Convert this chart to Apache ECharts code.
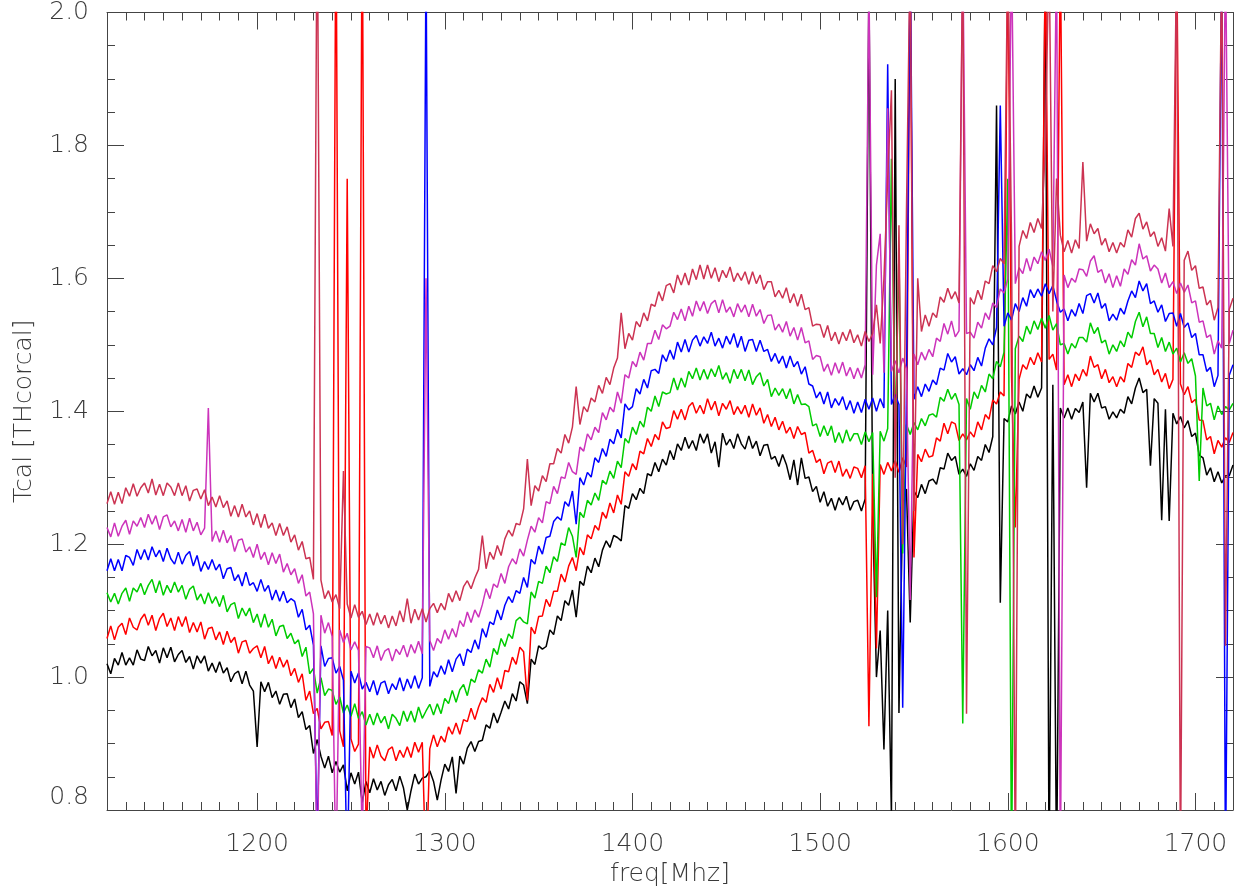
<!DOCTYPE html>
<html>
<head>
<meta charset="utf-8">
<script src="https://cdn.jsdelivr.net/npm/echarts@6/dist/echarts.min.js"></script>
<style>
html,body{margin:0;padding:0;background:#fff;}
#chart{width:1244px;height:896px;}
</style>
</head>
<body>
<div id="chart"></div>
<script>
const freq = [
1120,1122,1124,1126,1128,1130,1132,1134,1136,1138,
1140,1142,1144,1146,1148,1150,1152,1154,1156,1158,
1160,1162,1164,1166,1168,1170,1172,1174,1176,1178,
1180,1182,1184,1186,1188,1190,1192,1194,1196,1198,
1200,1202,1204,1206,1208,1210,1212,1214,1216,1218,
1220,1222,1224,1226,1228,1230,1232,1234,1236,1238,
1240,1242,1244,1246,1248,1250,1252,1254,1256,1258,
1260,1262,1264,1266,1268,1270,1272,1274,1276,1278,
1280,1282,1284,1286,1288,1290,1292,1294,1296,1298,
1300,1302,1304,1306,1308,1310,1312,1314,1316,1318,
1320,1322,1324,1326,1328,1330,1332,1334,1336,1338,
1340,1342,1344,1346,1348,1350,1352,1354,1356,1358,
1360,1362,1364,1366,1368,1370,1372,1374,1376,1378,
1380,1382,1384,1386,1388,1390,1392,1394,1396,1398,
1400,1402,1404,1406,1408,1410,1412,1414,1416,1418,
1420,1422,1424,1426,1428,1430,1432,1434,1436,1438,
1440,1442,1444,1446,1448,1450,1452,1454,1456,1458,
1460,1462,1464,1466,1468,1470,1472,1474,1476,1478,
1480,1482,1484,1486,1488,1490,1492,1494,1496,1498,
1500,1502,1504,1506,1508,1510,1512,1514,1516,1518,
1520,1522,1524,1526,1528,1530,1532,1534,1536,1538,
1540,1542,1544,1546,1548,1550,1552,1554,1556,1558,
1560,1562,1564,1566,1568,1570,1572,1574,1576,1578,
1580,1582,1584,1586,1588,1590,1592,1594,1596,1598,
1600,1602,1604,1606,1608,1610,1612,1614,1616,1618,
1620,1622,1624,1626,1628,1630,1632,1634,1636,1638,
1640,1642,1644,1646,1648,1650,1652,1654,1656,1658,
1660,1662,1664,1666,1668,1670,1672,1674,1676,1678,
1680,1682,1684,1686,1688,1690,1692,1694,1696,1698,
1700,1702,1704,1706,1708,1710,1712,1714,1716,1718,
1720];

const tcalBlack = [
1.020,1.005,1.028,1.018,1.037,1.018,1.029,1.018,1.041,1.027,
1.025,1.046,1.032,1.040,1.021,1.044,1.029,1.045,1.023,1.034,
1.040,1.022,1.031,1.012,1.032,1.021,1.032,1.009,1.021,1.007,
1.023,1.006,1.014,0.993,1.005,1.009,0.990,1.009,0.988,0.979,
0.895,0.993,0.978,0.992,0.969,0.979,0.959,0.974,0.975,0.954,
0.967,0.939,0.948,0.921,0.927,0.885,0.906,0.881,0.863,0.881,
0.856,0.873,0.857,0.868,0.829,0.856,0.839,0.857,0.811,0.843,
0.826,0.847,0.830,0.843,0.822,0.838,0.846,0.829,0.851,0.833,
0.800,0.829,0.854,0.839,0.848,0.850,0.859,0.843,0.815,0.845,
0.869,0.858,0.880,0.825,0.881,0.869,0.893,0.903,0.888,0.903,
0.905,0.928,0.923,0.946,0.931,0.947,0.964,0.952,0.975,0.964,
0.993,0.988,0.960,1.027,1.019,1.047,1.042,1.046,1.071,1.064,
1.092,1.085,1.115,1.108,1.131,1.090,1.144,1.138,1.167,1.157,
1.179,1.166,1.191,1.205,1.195,1.213,1.210,1.205,1.258,1.254,
1.276,1.267,1.284,1.276,1.306,1.303,1.323,1.309,1.328,1.319,
1.341,1.327,1.351,1.341,1.361,1.344,1.356,1.341,1.366,1.352,
1.366,1.337,1.354,1.316,1.367,1.349,1.358,1.344,1.366,1.351,
1.343,1.363,1.344,1.355,1.333,1.349,1.350,1.328,1.332,1.317,
1.335,1.320,1.297,1.327,1.289,1.330,1.299,1.301,1.279,1.287,
1.263,1.279,1.257,1.269,1.251,1.270,1.259,1.272,1.251,1.264,
1.266,1.250,1.268,2.050,1.252,1.000,1.070,0.891,1.100,0.790,
1.900,0.946,1.262,1.283,1.082,1.280,1.270,1.290,1.276,1.295,
1.298,1.290,1.315,1.313,1.337,1.326,1.332,1.305,1.313,1.302,
1.321,1.311,1.332,1.326,1.350,1.338,1.362,1.860,1.112,1.389,
1.384,1.408,1.396,1.414,1.400,1.426,1.420,1.438,1.421,1.435,
2.100,0.700,1.440,0.700,1.405,1.390,1.405,1.388,1.404,1.398,
1.414,1.285,1.427,1.414,1.427,1.405,1.407,1.388,1.399,1.390,
1.403,1.397,1.422,1.411,1.435,1.450,1.428,1.433,1.318,1.419,
1.412,1.236,1.403,1.235,1.397,1.381,1.392,1.375,1.386,1.362,
1.367,1.334,1.330,1.304,1.315,1.294,1.309,1.292,1.303,1.303,
1.319];

const tcalRed = [
1.058,1.077,1.056,1.075,1.081,1.064,1.089,1.075,1.071,1.087,
1.095,1.078,1.093,1.070,1.088,1.096,1.076,1.089,1.070,1.091,
1.076,1.091,1.067,1.082,1.068,1.083,1.057,1.073,1.075,1.056,
1.068,1.049,1.069,1.052,1.060,1.036,1.053,1.055,1.036,1.043,
1.047,1.029,1.046,1.020,1.032,1.013,1.030,1.015,1.026,1.002,
1.013,0.992,1.005,0.965,0.979,0.945,0.953,0.922,0.932,0.933,
0.912,2.200,0.919,0.895,1.750,0.907,0.888,0.899,2.200,0.750,
0.895,0.878,0.898,0.881,0.874,0.891,0.895,0.874,0.890,0.879,
0.895,0.879,0.902,0.887,0.902,0.700,0.892,0.913,0.895,0.911,
0.902,0.925,0.914,0.931,0.914,0.936,0.933,0.953,0.936,0.955,
0.969,0.962,0.989,0.977,0.999,0.982,1.010,1.008,1.030,1.019,
1.045,1.038,0.965,1.075,1.065,1.091,1.092,1.117,1.106,1.129,
1.129,1.155,1.143,1.167,1.180,1.160,1.195,1.184,1.214,1.208,
1.228,1.221,1.248,1.239,1.262,1.247,1.274,1.260,1.309,1.302,
1.321,1.312,1.340,1.336,1.359,1.347,1.365,1.357,1.384,1.374,
1.376,1.401,1.388,1.403,1.387,1.407,1.413,1.397,1.409,1.396,
1.419,1.402,1.415,1.393,1.412,1.403,1.416,1.395,1.407,1.396,
1.409,1.391,1.411,1.394,1.405,1.382,1.395,1.377,1.391,1.372,
1.385,1.367,1.376,1.359,1.377,1.365,1.368,1.337,1.341,1.323,
1.328,1.306,1.322,1.325,1.308,1.325,1.302,1.313,1.299,1.316,
1.314,1.300,1.318,0.926,1.306,1.043,1.320,1.305,1.323,1.310,
1.326,1.308,1.330,1.316,2.100,1.180,1.335,1.324,1.343,1.331,
1.333,1.360,1.355,1.382,1.366,1.384,1.381,1.356,1.366,1.357,
1.369,1.361,1.384,1.372,1.395,1.388,1.417,1.411,1.429,1.423,
2.100,1.452,1.225,1.448,1.470,1.463,1.481,1.470,1.488,1.474,
2.100,1.478,1.486,1.462,2.100,1.440,1.455,1.437,1.456,1.446,
1.463,1.453,1.483,1.466,1.470,1.449,1.463,1.443,1.452,1.437,
1.452,1.444,1.472,1.466,1.489,1.484,1.497,1.470,1.477,1.455,
1.463,1.444,1.457,1.434,1.448,2.100,1.441,1.425,1.437,1.413,
1.418,1.387,1.386,1.357,1.362,1.336,1.356,1.346,1.360,1.353,
1.368];

const tcalGreen = [
1.127,1.113,1.126,1.110,1.126,1.134,1.114,1.134,1.128,1.141,
1.124,1.138,1.147,1.127,1.145,1.123,1.138,1.127,1.143,1.128,
1.138,1.117,1.132,1.137,1.116,1.125,1.110,1.127,1.111,1.121,
1.106,1.123,1.098,1.109,1.112,1.088,1.104,1.092,1.104,1.082,
1.095,1.075,1.095,1.075,1.087,1.062,1.076,1.078,1.058,1.066,
1.050,1.056,1.031,1.045,1.005,1.013,0.976,0.999,0.972,0.982,
0.980,0.959,0.970,0.946,0.958,0.941,0.960,0.938,0.948,0.928,
0.944,0.928,0.946,0.931,0.941,0.922,0.944,0.938,0.927,0.949,
0.933,0.949,0.932,0.955,0.938,0.949,0.959,0.943,0.960,0.945,
0.968,0.960,0.980,0.962,0.981,0.989,0.972,0.997,0.992,1.011,
1.006,1.027,1.015,1.043,1.034,1.058,1.046,1.065,1.058,1.085,
1.090,1.083,1.080,1.128,1.119,1.144,1.141,1.167,1.157,1.181,
1.174,1.202,1.198,1.225,1.212,1.180,1.248,1.240,1.266,1.259,
1.277,1.266,1.296,1.290,1.310,1.299,1.325,1.315,1.359,1.352,
1.376,1.365,1.385,1.376,1.406,1.400,1.423,1.407,1.429,1.426,
1.428,1.450,1.432,1.450,1.436,1.460,1.449,1.465,1.447,1.463,
1.448,1.464,1.452,1.469,1.448,1.458,1.442,1.463,1.449,1.463,
1.446,1.462,1.440,1.452,1.458,1.438,1.448,1.422,1.435,1.424,
1.434,1.419,1.434,1.411,1.425,1.410,1.411,1.407,1.378,1.381,
1.362,1.378,1.363,1.378,1.353,1.368,1.352,1.372,1.355,1.366,
1.366,1.350,1.369,1.354,1.368,1.120,1.370,1.355,1.374,1.780,
1.360,1.640,1.186,1.380,1.365,1.383,1.372,1.389,1.378,1.394,
1.396,1.391,1.421,1.415,1.433,1.418,1.427,1.410,0.930,1.419,
1.403,1.429,1.419,1.439,1.429,1.456,1.449,1.475,1.467,1.489,
1.750,0.700,1.494,1.513,1.505,1.528,1.516,1.536,1.523,1.540,
1.525,1.544,1.522,1.532,1.500,1.502,1.486,1.502,1.495,1.511,
1.511,1.504,1.533,1.517,1.526,1.503,1.507,1.486,1.500,1.490,
1.506,1.497,1.519,1.510,1.535,1.549,1.527,1.542,1.517,1.517,
1.496,1.511,1.490,1.504,1.486,1.495,1.474,1.488,1.472,1.479,
1.453,1.295,1.435,1.408,1.412,1.387,1.408,1.395,1.407,1.402,
1.412];

const tcalBlue = [
1.160,1.178,1.160,1.177,1.160,1.183,1.180,1.168,1.192,1.177,
1.192,1.176,1.196,1.181,1.191,1.174,1.194,1.178,1.170,1.188,
1.170,1.183,1.189,1.167,1.183,1.159,1.174,1.162,1.177,1.161,
1.170,1.148,1.163,1.165,1.145,1.154,1.137,1.158,1.138,1.142,
1.129,1.147,1.129,1.138,1.116,1.131,1.114,1.129,1.112,1.118,
1.114,1.090,1.102,1.071,1.078,1.048,0.750,1.047,1.016,1.028,
1.029,1.006,1.016,0.995,0.700,1.009,0.991,1.006,0.982,0.992,
0.978,0.995,0.973,0.991,0.994,0.975,0.990,0.981,0.999,0.979,
0.997,0.983,1.002,0.983,0.999,2.100,0.986,1.008,1.000,1.017,
1.004,1.026,1.008,1.027,1.035,1.017,1.042,1.037,1.056,1.042,
1.073,1.060,1.083,1.079,1.101,1.086,1.108,1.121,1.112,1.130,
1.126,1.150,1.135,1.177,1.170,1.197,1.185,1.210,1.212,1.234,
1.241,1.236,1.264,1.257,1.280,1.230,1.300,1.289,1.308,1.301,
1.330,1.323,1.344,1.332,1.358,1.351,1.373,1.360,1.411,1.402,
1.407,1.434,1.426,1.448,1.435,1.461,1.463,1.457,1.485,1.475,
1.492,1.478,1.504,1.489,1.508,1.489,1.507,1.514,1.498,1.512,
1.502,1.519,1.498,1.510,1.495,1.513,1.501,1.517,1.496,1.513,
1.490,1.507,1.508,1.490,1.507,1.490,1.493,1.475,1.487,1.472,
1.483,1.465,1.483,1.467,1.475,1.456,1.467,1.441,1.438,1.420,
1.429,1.411,1.429,1.405,1.419,1.409,1.422,1.402,1.416,1.397,
1.414,1.398,1.418,1.403,1.420,1.400,1.419,1.405,1.922,1.410,
1.425,1.410,0.954,1.430,2.100,1.418,1.437,1.422,1.441,1.430,
1.447,1.440,1.465,1.462,1.487,1.474,1.482,1.456,1.464,1.455,
1.470,1.461,1.481,1.468,1.495,1.509,1.500,1.526,1.860,1.528,
1.548,1.537,1.562,1.550,1.571,1.558,1.583,1.571,1.584,1.573,
1.592,1.577,1.589,1.566,1.549,1.554,1.536,1.553,1.543,1.562,
1.547,1.574,1.577,1.563,1.578,1.555,1.562,1.536,1.546,1.537,
1.555,1.546,1.566,1.581,1.571,1.596,1.581,1.592,1.562,1.566,
1.549,1.560,1.535,1.547,1.548,1.528,1.547,1.526,1.533,1.511,
1.517,1.485,1.485,1.460,1.466,1.437,1.454,2.100,0.700,1.454,
1.470];

const tcalMagenta = [
1.225,1.211,1.232,1.212,1.227,1.236,1.215,1.235,1.227,1.240,
1.225,1.245,1.230,1.243,1.222,1.241,1.244,1.226,1.235,1.220,
1.237,1.218,1.239,1.220,1.233,1.214,1.224,1.405,1.204,1.220,
1.203,1.221,1.202,1.213,1.189,1.206,1.208,1.188,1.196,1.180,
1.200,1.177,1.188,1.169,1.187,1.171,1.185,1.158,1.171,1.154,
1.163,1.141,1.154,1.122,1.128,1.095,0.700,1.093,1.066,1.082,
1.061,0.700,1.071,1.052,1.066,1.041,1.053,1.040,0.750,1.046,
1.044,1.029,1.047,1.025,1.039,1.043,1.024,1.042,1.034,1.048,
1.030,1.049,1.036,1.054,1.035,1.600,1.055,1.040,1.058,1.051,
1.071,1.057,1.073,1.060,1.085,1.076,1.098,1.082,1.101,1.090,
1.109,1.133,1.118,1.140,1.135,1.156,1.141,1.166,1.178,1.170,
1.193,1.182,1.206,1.227,1.218,1.240,1.232,1.264,1.261,1.287,
1.276,1.301,1.299,1.323,1.309,1.305,1.346,1.340,1.366,1.357,
1.376,1.368,1.398,1.387,1.406,1.399,1.429,1.412,1.455,1.450,
1.475,1.467,1.489,1.477,1.502,1.502,1.522,1.508,1.530,1.524,
1.528,1.549,1.538,1.554,1.536,1.558,1.543,1.566,1.551,1.565,
1.547,1.562,1.567,1.548,1.568,1.549,1.557,1.542,1.562,1.549,
1.560,1.542,1.561,1.543,1.553,1.532,1.544,1.545,1.522,1.531,
1.519,1.535,1.513,1.526,1.507,1.526,1.503,1.506,1.478,1.484,
1.482,1.460,1.471,1.454,1.473,1.457,1.474,1.453,1.466,1.449,
1.465,1.450,1.470,2.050,1.455,1.620,1.667,1.458,1.856,1.460,
1.476,1.458,1.480,1.464,1.116,1.486,1.470,1.489,1.477,1.493,
1.482,1.510,1.505,1.532,1.516,1.536,1.512,1.521,2.100,1.517,
1.519,1.510,1.534,1.525,1.548,1.538,1.563,1.556,1.584,1.578,
1.599,2.100,1.592,1.616,1.607,1.630,1.611,1.632,1.622,1.640,
1.627,1.644,1.618,2.100,0.700,1.605,1.586,1.600,1.594,1.614,
1.613,1.603,1.626,1.634,1.609,1.613,1.593,1.607,1.586,1.604,
1.588,1.614,1.606,1.628,1.620,1.652,1.629,1.634,1.611,1.620,
1.614,1.593,1.608,1.586,1.595,1.577,1.593,1.579,1.590,1.563,
1.566,1.534,1.536,1.511,1.515,1.486,1.506,1.495,2.100,1.502,
1.522];

const tcalBrick = [
1.261,1.279,1.260,1.278,1.261,1.285,1.272,1.291,1.272,1.285,
1.292,1.277,1.298,1.274,1.290,1.273,1.292,1.286,1.273,1.292,
1.273,1.288,1.265,1.281,1.283,1.268,1.282,1.258,1.271,1.256,
1.273,1.255,1.265,1.242,1.258,1.241,1.260,1.241,1.250,1.229,
1.246,1.225,1.245,1.224,1.232,1.213,1.231,1.213,1.226,1.203,
1.214,1.191,1.204,1.178,1.180,1.147,2.200,1.146,1.118,1.130,
1.113,1.124,1.103,1.310,1.110,1.089,1.109,1.090,1.099,1.079,
1.095,1.078,1.097,1.080,1.093,1.074,1.092,1.077,1.100,1.083,
1.118,1.081,1.102,1.086,1.103,1.083,1.103,1.111,1.097,1.111,
1.101,1.126,1.113,1.130,1.115,1.136,1.145,1.133,1.149,1.162,
1.213,1.163,1.188,1.177,1.198,1.183,1.208,1.221,1.212,1.231,
1.229,1.253,1.328,1.258,1.288,1.280,1.303,1.294,1.321,1.321,
1.344,1.337,1.365,1.352,1.376,1.437,1.380,1.407,1.399,1.420,
1.414,1.439,1.427,1.451,1.440,1.465,1.480,1.548,1.494,1.517,
1.507,1.535,1.527,1.548,1.536,1.561,1.558,1.580,1.566,1.589,
1.592,1.578,1.605,1.590,1.608,1.590,1.614,1.598,1.620,1.599,
1.620,1.600,1.616,1.595,1.612,1.601,1.617,1.595,1.608,1.597,
1.610,1.591,1.610,1.592,1.605,1.583,1.595,1.595,1.572,1.582,
1.570,1.586,1.563,1.577,1.558,1.576,1.553,1.556,1.528,1.531,
1.530,1.511,1.529,1.506,1.519,1.501,1.519,1.506,1.523,1.503,
1.515,1.498,1.520,1.505,1.517,1.560,1.502,1.600,1.750,1.883,
1.300,1.680,1.200,1.700,2.100,1.250,1.600,1.520,1.545,1.528,
1.548,1.541,1.572,1.564,1.585,1.569,1.580,1.563,2.100,0.945,
1.571,1.561,1.582,1.568,1.596,1.592,1.619,1.610,1.630,1.622,
2.100,1.655,0.700,1.648,1.672,1.660,1.684,1.669,1.690,1.675,
1.800,2.100,1.550,1.750,1.665,1.640,1.657,1.638,1.658,1.645,
1.775,1.656,1.682,1.667,1.675,1.650,1.660,1.640,1.654,1.638,
1.654,1.647,1.673,1.662,1.690,1.698,1.674,1.685,1.663,1.670,
1.648,1.661,1.641,1.705,1.648,2.100,0.700,1.627,1.641,1.612,
1.619,1.585,1.587,1.560,1.567,1.537,1.556,2.100,1.047,1.553,
1.570];

const xMajorTicks = [1200, 1300, 1400, 1500, 1600, 1700];
const seriesNames = ['black', 'red', 'green', 'blue', 'magenta', 'brick'];
const seriesColors = ['#000000', '#ff0000', '#00cc00', '#0000ff', '#cc33bb', '#cc3352'];
const seriesValues = [tcalBlack, tcalRed, tcalGreen, tcalBlue, tcalMagenta, tcalBrick];

const axisColor = '#444';
const fontFamily = 'DejaVu Sans';
const textColor = '#3a3a3a';

const chart = echarts.init(document.getElementById('chart'), null, {renderer: 'canvas'});

function minorX(pos) {
  return {
    type: 'value', position: pos, min: 1120, max: 1720, interval: 10,
    axisLine: {show: true, lineStyle: {color: axisColor, width: 1}},
    axisTick: {show: true, inside: true, length: 8, lineStyle: {color: axisColor, width: 1}},
    axisLabel: {show: false},
    splitLine: {show: false}
  };
}
function majorX(pos, withLabels) {
  const ax = {
    type: 'value', position: pos, min: 1120, max: 1720,
    axisLine: {show: false},
    axisTick: {show: true, inside: true, length: 17, customValues: xMajorTicks,
               lineStyle: {color: axisColor, width: 1}},
    axisLabel: {show: withLabels, customValues: xMajorTicks, margin: 22,
                formatter: v => String(Math.round(v)),
                fontFamily: fontFamily, fontSize: 25, fontWeight: 200, color: textColor},
    splitLine: {show: false}
  };
  if (withLabels) {
    ax.name = 'freq[Mhz]';
    ax.nameLocation = 'middle';
    ax.nameGap = 52;
    ax.nameTextStyle = {fontFamily: fontFamily, fontSize: 25, fontWeight: 200, color: textColor};
  }
  return ax;
}
function yAx(pos, withLabels) {
  const ax = {
    type: 'value', position: pos, min: 0.8, max: 2.0, interval: 0.2,
    axisLine: {show: true, lineStyle: {color: axisColor, width: 1}},
    axisTick: {show: true, inside: true, length: 17, lineStyle: {color: axisColor, width: 1}},
    minorTick: {show: true, splitNumber: 4, length: 8, lineStyle: {color: axisColor, width: 1}},
    axisLabel: {show: withLabels, margin: 18, fontFamily: fontFamily, fontSize: 25, fontWeight: 200,
                color: textColor, formatter: v => v.toFixed(1), verticalAlignMinLabel: 'bottom'},
    splitLine: {show: false},
    minorSplitLine: {show: false}
  };
  if (withLabels) {
    ax.name = 'Tcal [THcorcal]';
    ax.nameLocation = 'middle';
    ax.nameGap = 70;
    ax.nameRotate = 90;
    ax.nameTextStyle = {fontFamily: fontFamily, fontSize: 25, fontWeight: 200, color: textColor};
  }
  return ax;
}

const series = seriesValues.map((vals, k) => ({
  name: seriesNames[k],
  type: 'line',
  xAxisIndex: 0,
  yAxisIndex: 0,
  data: freq.map((f, i) => [f, vals[i]]),
  showSymbol: false,
  symbol: 'none',
  clip: true,
  lineStyle: {color: seriesColors[k], width: 1.5},
  itemStyle: {color: seriesColors[k]},
  emphasis: {disabled: true},
  z: 2 + k
}));

chart.setOption({
  animation: false,
  backgroundColor: '#ffffff',
  grid: {left: 107, top: 10, right: 11, bottom: 86, containLabel: false},
  xAxis: [minorX('bottom'), majorX('bottom', true), minorX('top'), majorX('top', false)],
  yAxis: [yAx('left', true), yAx('right', false)],
  series: series
});
</script>
</body>
</html>
